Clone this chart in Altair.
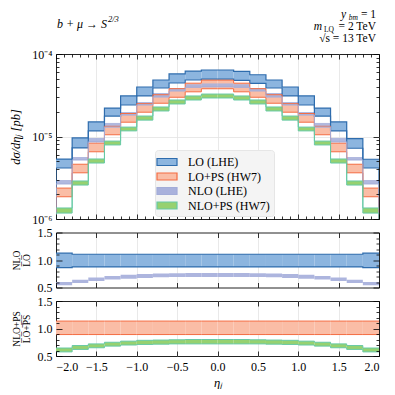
import altair as alt
import pandas as pd

# ---------------- data ----------------
EDGES = [-2.0, -1.8, -1.6, -1.4, -1.2, -1.0, -0.8, -0.6, -0.4, -0.2, 0.0,
         0.2, 0.4, 0.6, 0.8, 1.0, 1.2, 1.4, 1.6, 1.8, 2.0]
SERIES = ["LO (LHE)", "LO+PS (HW7)", "NLO (LHE)", "NLO+PS (HW7)"]

LO_HI = [5.33e-6, 9.6e-6, 1.50e-5, 2.21e-5, 3.10e-5, 3.98e-5, 4.84e-5, 5.73e-5, 6.20e-5, 6.40e-5,
         6.40e-5, 6.15e-5, 5.60e-5, 4.84e-5, 3.98e-5, 3.10e-5, 2.21e-5, 1.50e-5, 9.4e-6, 5.30e-6]
LO_LO = [4.15e-6, 7.26e-6, 1.17e-5, 1.77e-5, 2.41e-5, 3.10e-5, 3.87e-5, 4.45e-5, 4.84e-5, 4.97e-5,
         4.97e-5, 4.80e-5, 4.40e-5, 3.87e-5, 3.10e-5, 2.41e-5, 1.77e-5, 1.17e-5, 7.2e-6, 4.15e-6]
LOPS_HI = [2.37e-6, 4.61e-6, 8.31e-6, 1.33e-5, 1.90e-5, 2.50e-5, 3.21e-5, 3.80e-5, 4.43e-5, 4.82e-5,
           4.82e-5, 4.43e-5, 3.80e-5, 3.21e-5, 2.50e-5, 1.90e-5, 1.33e-5, 8.31e-6, 4.61e-6, 2.37e-6]
LOPS_LO = [1.86e-6, 3.63e-6, 6.53e-6, 1.05e-5, 1.49e-5, 1.97e-5, 2.53e-5, 2.99e-5, 3.48e-5, 3.79e-5,
           3.79e-5, 3.48e-5, 2.99e-5, 2.53e-5, 1.97e-5, 1.49e-5, 1.05e-5, 6.53e-6, 3.63e-6, 1.86e-6]
NLO_HI = [2.97e-6, 5.64e-6, 9.6e-6, 1.46e-5, 1.98e-5, 2.62e-5, 3.37e-5, 3.87e-5, 4.30e-5, 4.40e-5,
          4.40e-5, 4.30e-5, 3.87e-5, 3.37e-5, 2.62e-5, 1.98e-5, 1.46e-5, 9.6e-6, 5.64e-6, 2.97e-6]
NLO_LO = [2.66e-6, 5.19e-6, 8.6e-6, 1.30e-5, 1.82e-5, 2.41e-5, 3.01e-5, 3.56e-5, 3.95e-5, 4.00e-5,
          4.00e-5, 3.95e-5, 3.56e-5, 3.01e-5, 2.41e-5, 1.82e-5, 1.30e-5, 8.6e-6, 5.19e-6, 2.66e-6]
NLOPS_HI = [1.36e-6, 2.89e-6, 5.34e-6, 8.8e-6, 1.30e-5, 1.77e-5, 2.28e-5, 2.77e-5, 3.10e-5, 3.27e-5,
            3.27e-5, 3.10e-5, 2.77e-5, 2.28e-5, 1.77e-5, 1.30e-5, 8.8e-6, 5.34e-6, 2.89e-6, 1.36e-6]
NLOPS_LO = [1.18e-6, 2.58e-6, 4.77e-6, 7.9e-6, 1.17e-5, 1.58e-5, 2.04e-5, 2.48e-5, 2.77e-5, 2.93e-5,
            2.93e-5, 2.77e-5, 2.48e-5, 2.04e-5, 1.58e-5, 1.17e-5, 7.9e-6, 4.77e-6, 2.58e-6, 1.18e-6]

# ratio panels
R_LO_LO = [0.86] + [0.875] * 18 + [0.86]
R_LO_HI = [1.125] + [1.105] * 18 + [1.125]
R_NLO_LO = [0.54, 0.58, 0.62, 0.645, 0.66, 0.675, 0.685, 0.69, 0.69, 0.69,
            0.69, 0.69, 0.69, 0.685, 0.675, 0.66, 0.645, 0.62, 0.58, 0.54]
R_NLO_HI = [0.60, 0.64, 0.68, 0.71, 0.73, 0.745, 0.755, 0.76, 0.765, 0.765,
            0.765, 0.765, 0.76, 0.755, 0.745, 0.73, 0.71, 0.68, 0.64, 0.60]
R_LOPS_LO = [0.89] * 20
R_LOPS_HI = [1.135] * 20
R_NLOPS_LO = [0.575, 0.62, 0.65, 0.68, 0.70, 0.71, 0.715, 0.72, 0.72, 0.72,
              0.72, 0.72, 0.72, 0.715, 0.71, 0.70, 0.68, 0.65, 0.62, 0.575]
R_NLOPS_HI = [0.645, 0.69, 0.72, 0.75, 0.77, 0.785, 0.79, 0.795, 0.80, 0.80,
              0.80, 0.80, 0.795, 0.79, 0.785, 0.77, 0.75, 0.72, 0.69, 0.645]

X_MAJOR = [-2.0, -1.5, -1.0, -0.5, 0.0, 0.5, 1.0, 1.5, 2.0]
X_GRID = [-1.5, -1.0, -0.5, 0.0, 0.5, 1.0, 1.5]
X_MINOR = [-1.9, -1.8, -1.7, -1.6, -1.4, -1.3, -1.2, -1.1, -0.9, -0.8, -0.7, -0.6,
           -0.4, -0.3, -0.2, -0.1, 0.1, 0.2, 0.3, 0.4, 0.6, 0.7, 0.8, 0.9,
           1.1, 1.2, 1.3, 1.4, 1.6, 1.7, 1.8, 1.9]
Y_MAJOR = [1e-6, 1e-5, 1e-4]
Y_MINOR = [2e-6, 3e-6, 4e-6, 5e-6, 6e-6, 7e-6, 8e-6, 9e-6,
           2e-5, 3e-5, 4e-5, 5e-5, 6e-5, 7e-5, 8e-5, 9e-5]
R_MAJOR = [0.5, 1.0, 1.5]
R_MINOR = [0.6, 0.7, 0.8, 0.9, 1.1, 1.2, 1.3, 1.4]

# ---------------- style ----------------
FONT = "Liberation Serif"
W, H1, H2, H3 = 323, 165, 55, 55
FILL = {"LO": "#8cb5df", "LOPS": "#fabda6", "NLO": "#a9b1dc", "NLOPS": "#96d170"}
LINE = {"LO": "#2e6cad", "LOPS": "#f46d43", "NLO": "#a3acd8", "NLOPS": "#66c9a5"}

xscale = alt.Scale(domain=[-2, 2], nice=False, zero=False)
ytop = alt.Scale(type="log", domain=[1e-6, 1e-4], nice=False)
yrat = alt.Scale(domain=[0.5, 1.5], nice=False, zero=False)


def band(lo, hi, fill, ys, opacity=1.0):
    df = pd.DataFrame({"x": EDGES[:-1], "x2": EDGES[1:], "lo": lo, "hi": hi})
    return alt.Chart(df).mark_rect(fill=fill, opacity=opacity, clip=True).encode(
        x=alt.X("x:Q", scale=xscale, axis=None), x2="x2:Q",
        y=alt.Y("lo:Q", scale=ys, axis=None), y2="hi:Q")


def step(vals, color, ys, width=1.0, floor=None):
    xs = list(EDGES[:-1]) + [EDGES[-1]]
    yv = list(vals) + [vals[-1]]
    if floor is not None:
        xs = [EDGES[0]] + xs + [EDGES[-1]]
        yv = [floor] + yv + [floor]
    df = pd.DataFrame({"x": xs, "y": yv, "i": list(range(len(xs)))})
    return alt.Chart(df).mark_line(interpolate="step-after", color=color,
                                   strokeWidth=width, clip=True).encode(
        x=alt.X("x:Q", scale=xscale, axis=None),
        y=alt.Y("y:Q", scale=ys, axis=None), order="i:Q")


def tick_axis(orient, offset, values, size):
    return alt.Axis(orient=orient, offset=offset, values=values, tickSize=size,
                    labels=False, domain=False, grid=False, title=None,
                    tickColor="black", tickWidth=0.8, zindex=2)


def grid_axis(orient, values):
    return alt.Axis(orient=orient, values=values, labels=False, ticks=False,
                    domain=False, grid=True, gridColor="#e3e3e3", gridWidth=0.8,
                    title=None)


def axis_layer(ys, yval, xaxis, yaxis):
    df = pd.DataFrame({"x": [0.0], "y": [yval]})
    return alt.Chart(df).mark_point(opacity=0).encode(
        x=alt.X("x:Q", scale=xscale, axis=xaxis),
        y=alt.Y("y:Q", scale=ys, axis=yaxis))


def base_axes(ys, yval, ylabel_axis, xlabel_axis, ygrid):
    return [
        axis_layer(ys, yval, xlabel_axis, ylabel_axis),
        axis_layer(ys, yval, grid_axis("bottom", X_GRID),
                   grid_axis("left", ygrid) if ygrid else None),
    ]


def tick_axes(ys, yval, H, ymaj, ymin, xminor):
    return [
        axis_layer(ys, yval, tick_axis("top", -H, X_MAJOR, 5), tick_axis("right", -W, ymaj, 6)),
        axis_layer(ys, yval, tick_axis("bottom", -H, X_MAJOR, 5), tick_axis("left", -W, ymaj, 6)),
        axis_layer(ys, yval,
                   tick_axis("top", -H, X_MINOR, 3) if xminor else None,
                   tick_axis("right", -W, ymin, 3)),
        axis_layer(ys, yval,
                   tick_axis("bottom", -H, X_MINOR, 3) if xminor else None,
                   tick_axis("left", -W, ymin, 3)),
    ]


# ---------------- top panel ----------------
FLOOR = 1e-7
top_layers = base_axes(
    ytop, 1e-5,
    alt.Axis(orient="left", values=Y_MAJOR, tickSize=0, domain=False, grid=False,
             labelExpr="datum.value > 5e-5 ? '10⁻⁴' : datum.value > 5e-6 ? '10⁻⁵' : '10⁻⁶'",
             labelPadding=4, title="dσ/dηⱼ [pb]", titlePadding=9, titleFontStyle="italic"),
    None, [1e-5])
top_layers += [
    band(LO_LO, LO_HI, FILL["LO"], ytop),
    band(LOPS_LO, LOPS_HI, FILL["LOPS"], ytop),
    band(NLO_LO, NLO_HI, FILL["NLO"], ytop, 0.9),
    band(NLOPS_LO, NLOPS_HI, FILL["NLOPS"], ytop),
    step(LO_HI, LINE["LO"], ytop, 1.2),
    step(LO_LO, LINE["LO"], ytop, 1.2, FLOOR),
    step(LOPS_HI, LINE["LOPS"], ytop, 1.0),
    step(LOPS_LO, LINE["LOPS"], ytop, 1.0, FLOOR),
    step(NLO_LO, LINE["NLO"], ytop, 1.0, FLOOR),
    step(NLOPS_HI, LINE["NLOPS"], ytop, 1.0),
    step(NLOPS_LO, LINE["NLOPS"], ytop, 1.0, FLOOR),
]
top_layers += tick_axes(ytop, 1e-5, H1, Y_MAJOR, Y_MINOR, True)

RECT_PATH = "M-1.43,-0.5H1.43V0.5H-1.43Z"
leg_df = pd.DataFrame({"series": SERIES, "x": [0.0] * 4, "y": [1e-8] * 4})
legend_kw = dict(orient="none", legendX=99, legendY=96, title=None,
                 symbolType=RECT_PATH, symbolSize=196, symbolStrokeWidth=1.2,
                 labelFont=FONT, labelFontSize=12, labelColor="black", labelOffset=13,
                 fillColor="#f4f4f4", strokeColor="#e6e6e6", cornerRadius=3,
                 padding=4, rowPadding=0.5)
legend_layer = alt.Chart(leg_df).mark_point(filled=True, opacity=1, clip=True,
                                            shape=RECT_PATH, size=196).encode(
    x=alt.X("x:Q", scale=xscale, axis=None),
    y=alt.Y("y:Q", scale=ytop, axis=None),
    fill=alt.Fill("series:N", scale=alt.Scale(domain=SERIES,
                  range=[FILL["LO"], FILL["LOPS"], FILL["NLO"], FILL["NLOPS"]]),
                  legend=alt.Legend(**legend_kw)),
    stroke=alt.Stroke("series:N", scale=alt.Scale(domain=SERIES,
                      range=[LINE["LO"], LINE["LOPS"], LINE["NLO"], LINE["NLOPS"]]),
                      legend=alt.Legend(**legend_kw)),
)
top_layers.append(legend_layer)

# annotations (text above the top panel)
ANNOT = [
    # text, x, y, size, style, align
    ("b + μ → S", 1, -26, 12, "italic", "left"),
    ("2/3", 52, -32, 8.5, "italic", "left"),
    ("= 1", W - 3, -36, 11.5, "normal", "right"),
    ("bm", W - 21, -34.5, 7.5, "italic", "right"),
    ("y", W - 33, -36, 11.5, "italic", "right"),
    ("= 2 TeV", W - 3, -24, 11.5, "normal", "right"),
    ("LQ", W - 45, -22.5, 7.5, "normal", "right"),
    ("m", W - 57, -24, 11.5, "italic", "right"),
    ("√s = 13 TeV", W - 3, -12, 11.5, "normal", "right"),
]
one = pd.DataFrame({"a": [0]})
for t, ax, ay, sz, st, al in ANNOT:
    top_layers.append(alt.Chart(one).mark_text(
        text=t, font=FONT, fontSize=sz, fontStyle=st, align=al,
        baseline="alphabetic", color="black").encode(x=alt.value(ax), y=alt.value(ay)))

top = alt.layer(*top_layers).resolve_axis(x="independent", y="independent").properties(
    width=W, height=H1)

# ---------------- middle panel ----------------
mid_layers = base_axes(
    yrat, 1.0,
    alt.Axis(orient="left", values=R_MAJOR, format=".1f", tickSize=0, domain=False,
             grid=False, labelPadding=4, title=["NLO", "L\u0305O\u0305"],
             titleFontSize=9.5, titleLineHeight=9.5, titlePadding=6),
    None, None)
mid_layers += [
    band(R_LO_LO, R_LO_HI, FILL["LO"], yrat),
    step(R_LO_HI, LINE["LO"], yrat, 1.2),
    step(R_LO_LO, LINE["LO"], yrat, 1.2),
    band(R_NLO_LO, R_NLO_HI, FILL["NLO"], yrat, 0.95),
]
mid_layers += tick_axes(yrat, 1.0, H2, R_MAJOR, R_MINOR, False)
mid = alt.layer(*mid_layers).resolve_axis(x="independent", y="independent").properties(
    width=W, height=H2)

# ---------------- bottom panel ----------------
bot_layers = base_axes(
    yrat, 1.0,
    alt.Axis(orient="left", values=R_MAJOR, format=".1f", tickSize=0, domain=False,
             grid=False, labelPadding=4,
             title=["NLO+PS", "L\u0305O\u0305+\u0305P\u0305S\u0305"],
             titleFontSize=9.5, titleLineHeight=9.5, titlePadding=6),
    alt.Axis(orient="bottom", values=X_MAJOR, format=".1f", tickSize=0, domain=False,
             grid=False, labelPadding=5, title="ηⱼ", titleFontStyle="italic",
             titlePadding=4),
    None)
bot_layers += [
    band(R_LOPS_LO, R_LOPS_HI, FILL["LOPS"], yrat),
    step(R_LOPS_HI, LINE["LOPS"], yrat, 1.0),
    step(R_LOPS_LO, LINE["LOPS"], yrat, 1.0),
    band(R_NLOPS_LO, R_NLOPS_HI, FILL["NLOPS"], yrat),
    step(R_NLOPS_HI, LINE["NLOPS"], yrat, 1.0),
    step(R_NLOPS_LO, LINE["NLOPS"], yrat, 1.0),
]
bot_layers += tick_axes(yrat, 1.0, H3, R_MAJOR, R_MINOR, False)
bot = alt.layer(*bot_layers).resolve_axis(x="independent", y="independent").properties(
    width=W, height=H3)

chart = alt.vconcat(top, mid, bot, spacing=13.5, bounds="flush").properties(
    padding={"left": 1, "top": 0, "right": 2, "bottom": 0}
).configure_view(stroke="#222222", strokeWidth=1).configure_axis(
    labelFont=FONT, titleFont=FONT, labelFontSize=12, titleFontSize=12.5,
    labelColor="black", titleColor="black", titleFontWeight="normal"
)

chart.save("out.html", embed_options={"renderer": "svg", "actions": False})
